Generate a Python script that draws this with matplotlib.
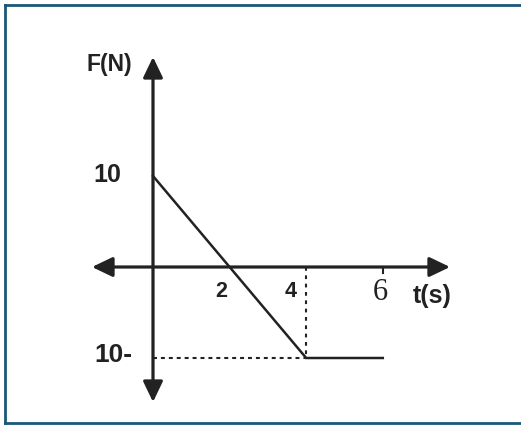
import matplotlib
matplotlib.use('Agg')
import matplotlib.pyplot as plt
from matplotlib.lines import Line2D

# force vs time graph
t_values = [0, 4, 6]
f_values = [10, -10, -10]

x_tick_labels = ['2', '4', '6']
x_tick_values = [2, 4, 6]
y_tick_labels = ['10', '10-']
y_tick_values = [10, -10]

ink = '#222222'
border = '#1a5878'

W, H = 521, 425
fig = plt.figure(figsize=(W / 100, H / 100), dpi=100)
ax = fig.add_axes([0, 0, 1, 1])

# pixel placement of the origin and scale (px per unit)
ox, oy = 153, 267
sx, sy = 38.3, 9.1
ax.set_xlim(-ox / sx, (W - ox) / sx)
ax.set_ylim((oy - H) / sy, oy / sy)
ax.axis('off')

# axes with arrow heads
x_ax = ((92 - ox) / sx, (450 - ox) / sx)
y_ax = ((oy - 402) / sy, (oy - 57) / sy)
arrow = dict(arrowstyle='<|-|>,head_length=1.25,head_width=0.6',
             mutation_scale=10, lw=2.3, color=ink, shrinkA=0, shrinkB=0)
ax.annotate('', xy=(x_ax[1], 0), xytext=(x_ax[0], 0), arrowprops=arrow)
ax.annotate('', xy=(0, y_ax[1]), xytext=(0, y_ax[0]), arrowprops=arrow)

# the force curve
ax.plot(t_values, f_values, color=ink, lw=1.8, solid_joinstyle='miter')

# dashed guides to the kink
ax.plot([0, t_values[1]], [f_values[1], f_values[1]], color=ink, lw=1.5,
        linestyle=(0, (1.9, 1.9)))
ax.plot([t_values[1], t_values[1]], [0, f_values[1]], color=ink, lw=1.5,
        linestyle=(0, (1.8, 2.2)))

# small tick at t=6
ax.plot([6, 6], [0, -0.7], color=ink, lw=1.5)

bold = dict(family=['Liberation Sans', 'DejaVu Sans'], fontweight='bold',
            color=ink, ha='center', va='center')
x_offsets = [(-8.6, -24.5), (-16, -24.5), (-2.3, -26)]
for lab, val, off in zip(x_tick_labels, x_tick_values, x_offsets):
    if lab == '6':
        ax.annotate(lab, xy=(val, 0), xytext=off, textcoords='offset pixels',
                    family=['Liberation Serif', 'DejaVu Serif'], fontsize=22,
                    color=ink, ha='center', va='center')
    else:
        ax.annotate(lab, xy=(val, 0), xytext=off, textcoords='offset pixels',
                    fontsize=15.5, **bold)

y_offsets = [(-46, 1), (-40, 3)]
y_sizes = [18, 19]
for lab, val, off, fs in zip(y_tick_labels, y_tick_values, y_offsets, y_sizes):
    ax.annotate(lab, xy=(0, val), xytext=off, textcoords='offset pixels',
                fontsize=fs, **bold)

ax.annotate('t(s)', xy=(x_ax[1], 0), xytext=(-18, -28.5),
            textcoords='offset pixels', fontsize=18, **bold)
ax.annotate('F(N)', xy=(0, y_ax[1]), xytext=(-43.5, -7),
            textcoords='offset pixels', fontsize=16.5, **bold)

# frame around the picture (no right edge visible)
fx = 5 / W
ft = 1 - 4.5 / H
fb = 1 - 423 / H
for xs, ys in [([fx, fx], [fb, ft]), ([fx, 1], [ft, ft]), ([fx, 1], [fb, fb])]:
    fig.add_artist(Line2D(xs, ys, transform=fig.transFigure, color=border,
                          lw=2.0, solid_capstyle='projecting'))

fig.savefig('out.png', dpi=100)
